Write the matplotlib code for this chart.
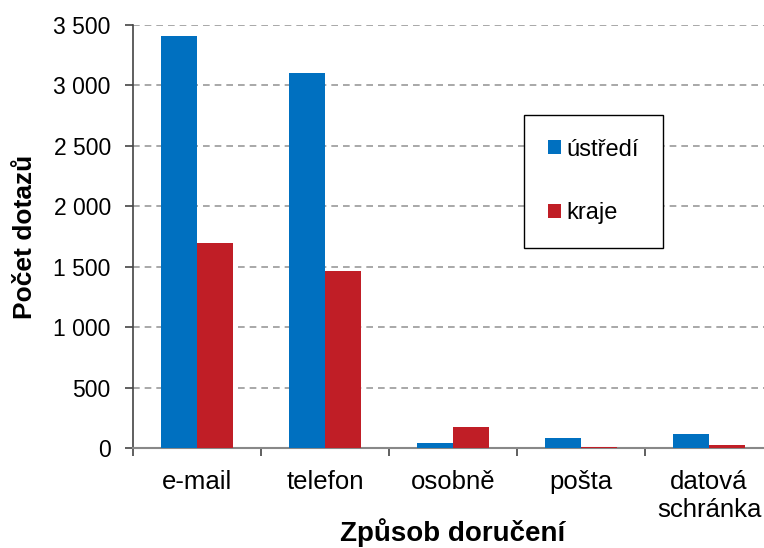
import numpy as np
import matplotlib.pyplot as plt
from matplotlib.ticker import FuncFormatter

plt.rcParams['font.family'] = ['Liberation Sans', 'DejaVu Sans']

kategorie = ['e-mail', 'telefon', 'osobně', 'pošta', 'datová\nschránka']
ustredi = [3410, 3100, 40, 85, 115]
kraje = [1700, 1465, 175, 10, 22]

fig = plt.figure(figsize=(7.64, 5.48), dpi=100)
ax = fig.add_axes([133/764, 1-448/548, 640/764, 423/548])

x = np.arange(len(kategorie))
w = 0.285
ax.bar(x - w/2, ustredi, w, color='#0070C0', label='ústředí', zorder=3)
ax.bar(x + w/2, kraje, w, color='#C01E26', label='kraje', zorder=3)

ax.set_xlim(-0.5, 4.5)
ax.set_ylim(0, 3500)
ax.set_yticks(np.arange(0, 3501, 500))
ax.yaxis.set_major_formatter(FuncFormatter(lambda v, p: f'{int(v):,}'.replace(',', ' ')))
ax.grid(axis='y', linestyle=(0, (4, 3)), color='#999999', linewidth=1.2, zorder=0)

ax.set_xticks(np.arange(-0.5, 4.6, 1))
ax.set_xticklabels([])
ax.set_xticks(x, minor=True)
ax.set_xticklabels(kategorie, minor=True, fontsize=18.5, linespacing=1.2)
ax.tick_params(axis='x', which='minor', length=0, pad=16)
ax.tick_params(axis='x', which='major', length=6, width=1.2, color='#444444')
ax.tick_params(axis='y', length=6, width=1.2, color='#444444', labelsize=16.5, pad=10)

for s in ['top', 'right']:
    ax.spines[s].set_visible(False)
ax.spines['left'].set_color('#444444')
ax.spines['bottom'].set_color('#888888')
ax.spines['left'].set_linewidth(1.2)
ax.spines['bottom'].set_linewidth(1.5)

ax.set_ylabel('Počet dotazů', fontsize=19, fontweight='bold', labelpad=12)
ax.set_xlabel('Způsob doručení', fontsize=20, fontweight='bold')
ax.xaxis.set_label_coords(0.5, -0.165)

leg = ax.legend(loc='upper left', bbox_to_anchor=(0.611, 0.787), borderaxespad=0,
                fontsize=17, handlelength=0.55, handleheight=0.55, handletextpad=0.25,
                labelspacing=1.75, borderpad=1.0, fancybox=False, edgecolor='black',
                framealpha=1)
leg.get_frame().set_linewidth(1.0)

fig.savefig('out.png', dpi=100)
